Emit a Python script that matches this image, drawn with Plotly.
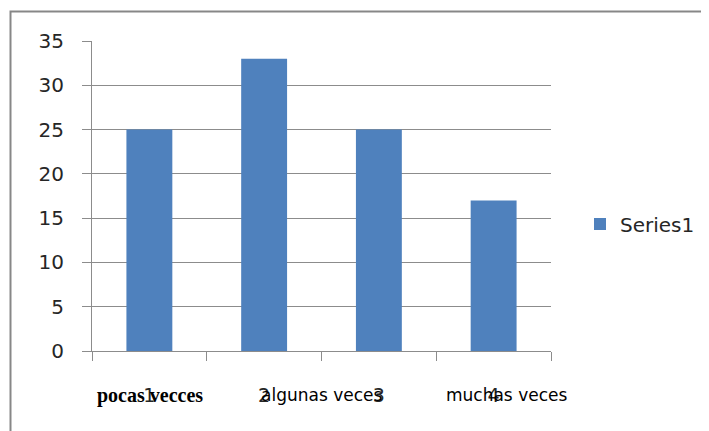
import plotly.graph_objects as go

categories = ["1", "2", "3", "4"]
values = [25, 33, 25, 17]
series_name = "Series1"
text_labels = ["pocas vecces", "algunas veces", "muchas veces"]
y_ticks = [0, 5, 10, 15, 20, 25, 30, 35]

# the page body adds an 8px margin; compensate so the picture lands in place
OFF = 8
W, H = 709 - OFF, 431 - OFF
L, R, T, B = 92 - OFF, 551 - OFF, 41 - OFF, 351 - OFF  # plot area in px


def px_x(px):
    return (px - OFF - L) / (R - L)


def px_y(py):
    return (B - (py - OFF)) / (B - T)


fig = go.Figure()
fig.add_trace(go.Bar(x=categories, y=values, name=series_name,
                     marker=dict(color="#4F81BD", line=dict(width=0))))

grid = "#8C8C8C"
fig.update_layout(
    width=W, height=H,
    margin=dict(l=L, r=W - R, t=T, b=H - B, autoexpand=False),
    paper_bgcolor="white", plot_bgcolor="white",
    bargap=0.6,
    showlegend=True,
    legend=dict(x=px_x(580), xanchor="left", y=px_y(224), yanchor="middle",
                font=dict(family="DejaVu Sans", size=20, color="#262626"),
                bgcolor="rgba(0,0,0,0)"),
    font=dict(family="DejaVu Sans", size=19, color="#262626"),
)
fig.update_xaxes(type="category", tickson="boundaries", ticks="outside",
                 ticklen=9, tickcolor=grid, showline=True, linecolor=grid,
                 linewidth=1, showgrid=False, ticklabelstandoff=27,
                 automargin=False,
                 tickfont=dict(family="DejaVu Sans", size=19, color="#262626"))
fig.update_yaxes(range=[0, 35], tickvals=y_ticks, ticks="outside", ticklen=9,
                 tickcolor=grid, showline=True, linecolor=grid, linewidth=1,
                 showgrid=True, gridcolor=grid, gridwidth=1, zeroline=False,
                 ticklabelstandoff=14, automargin=False,
                 tickfont=dict(family="DejaVu Sans", size=20, color="#262626"))

# text boxes under the axis
fig.add_annotation(x=px_x(150), y=px_y(395), xref="paper", yref="paper",
                   text="<b>" + text_labels[0] + "</b>", showarrow=False,
                   font=dict(family="Liberation Serif", size=20, color="black"),
                   xanchor="center", yanchor="middle")
fig.add_annotation(x=px_x(321), y=px_y(395), xref="paper", yref="paper",
                   text=text_labels[1], showarrow=False,
                   font=dict(family="DejaVu Sans", size=17, color="black"),
                   xanchor="center", yanchor="middle")
fig.add_annotation(x=px_x(506), y=px_y(395), xref="paper", yref="paper",
                   text=text_labels[2], showarrow=False,
                   font=dict(family="DejaVu Sans", size=17, color="black"),
                   xanchor="center", yanchor="middle")

# chart border
fig.add_shape(type="rect", xref="paper", yref="paper",
              x0=px_x(10.5), x1=px_x(760), y0=px_y(480), y1=px_y(11.5),
              line=dict(color="#878787", width=2), fillcolor="rgba(0,0,0,0)",
              layer="below")

fig.write_html("out.html")
